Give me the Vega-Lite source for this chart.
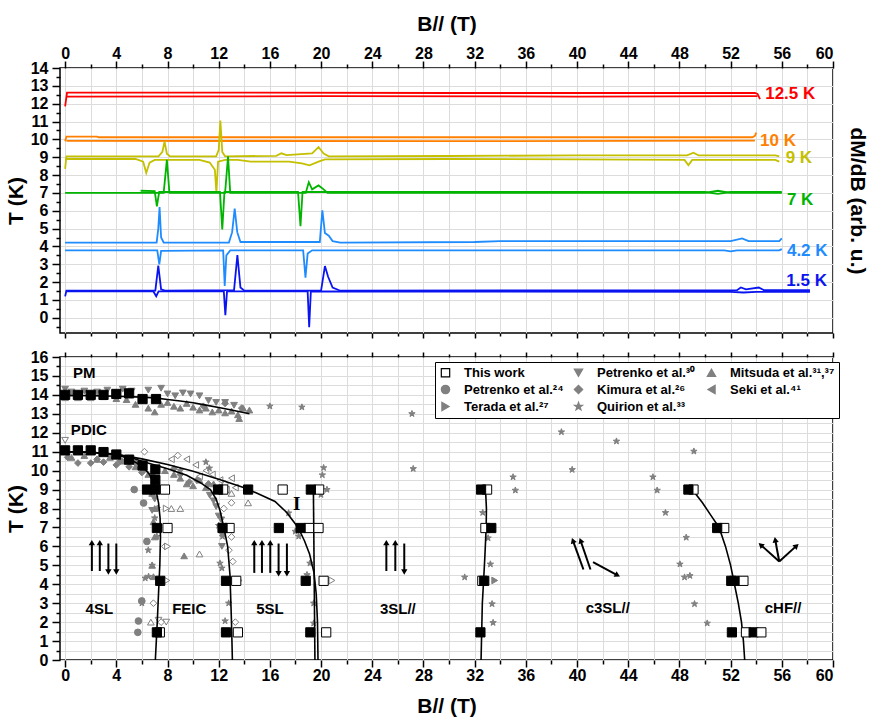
{
 "$schema": "https://vega.github.io/schema/vega-lite/v6.json",
 "background": "white",
 "padding": {"left": 4, "top": 12, "right": 2, "bottom": 2},
 "spacing": 8,
 "config": {
  "font": "Liberation Sans",
  "view": {"stroke": "black", "strokeWidth": 1.5},
  "axis": {"labelFont": "Liberation Sans", "labelFontSize": 16, "labelFontWeight": "bold", "labelColor": "black", "titleFont": "Liberation Sans", "titleFontSize": 21, "titleFontWeight": "bold", "titleColor": "black", "tickColor": "black", "tickWidth": 1.5, "domain": false, "gridColor": "#dcdcdc", "gridWidth": 1, "labelOverlap": false}
 },
 "resolve": {"legend": {"shape": "independent", "color": "independent", "fill": "independent", "stroke": "independent"}},
 "datasets": {
  "sources": [
   {"c": "tw", "name": "This work"},
   {"c": "p30", "name": "Petrenko et al.³⁰"},
   {"c": "m", "name": "Mitsuda et al.³¹,³⁷"},
   {"c": "p24", "name": "Petrenko et al.²⁴"},
   {"c": "k", "name": "Kimura et al.²⁶"},
   {"c": "s", "name": "Seki et al.⁴¹"},
   {"c": "t", "name": "Terada et al.²⁷"},
   {"c": "q", "name": "Quirion et al.³³"}
  ],
  "curves": [
   {"t":"12.5 K","s":"u","B":0,"v":11.85},{"t":"12.5 K","s":"u","B":0.15,"v":12.62},{"t":"12.5 K","s":"u","B":10,"v":12.62},{"t":"12.5 K","s":"u","B":30,"v":12.6},{"t":"12.5 K","s":"u","B":53.9,"v":12.6},{"t":"12.5 K","s":"u","B":54.1,"v":12.55},{"t":"12.5 K","s":"u","B":54.3,"v":12.25},
   {"t":"12.5 K","s":"d","B":0.15,"v":12.4},{"t":"12.5 K","s":"d","B":20,"v":12.42},{"t":"12.5 K","s":"d","B":40,"v":12.4},{"t":"12.5 K","s":"d","B":54.1,"v":12.42},
   {"t":"10 K","s":"u","B":0,"v":9.9},{"t":"10 K","s":"u","B":0.1,"v":10.15},{"t":"10 K","s":"u","B":2.5,"v":10.15},{"t":"10 K","s":"u","B":2.6,"v":10.12},{"t":"10 K","s":"u","B":30,"v":10.12},{"t":"10 K","s":"u","B":53.7,"v":10.12},{"t":"10 K","s":"u","B":53.9,"v":10.2},{"t":"10 K","s":"u","B":54.0,"v":10.38},
   {"t":"10 K","s":"d","B":0.1,"v":9.92},{"t":"10 K","s":"d","B":30,"v":9.9},{"t":"10 K","s":"d","B":53.9,"v":9.93},
   {"t":"9 K","s":"u","B":0,"v":8.35},{"t":"9 K","s":"u","B":0.1,"v":9.05},{"t":"9 K","s":"u","B":7.3,"v":9.05},{"t":"9 K","s":"u","B":7.6,"v":9.3},{"t":"9 K","s":"u","B":7.77,"v":9.88},{"t":"9 K","s":"u","B":7.95,"v":9.2},{"t":"9 K","s":"u","B":8.2,"v":9.05},{"t":"9 K","s":"u","B":11.8,"v":9.05},{"t":"9 K","s":"u","B":12.0,"v":9.4},{"t":"9 K","s":"u","B":12.13,"v":11.05},{"t":"9 K","s":"u","B":12.28,"v":9.3},{"t":"9 K","s":"u","B":12.5,"v":9.05},{"t":"9 K","s":"u","B":16.5,"v":9.08},{"t":"9 K","s":"u","B":16.9,"v":9.22},{"t":"9 K","s":"u","B":17.3,"v":9.12},{"t":"9 K","s":"u","B":19.3,"v":9.22},{"t":"9 K","s":"u","B":19.8,"v":9.57},{"t":"9 K","s":"u","B":20.2,"v":9.2},{"t":"9 K","s":"u","B":20.6,"v":9.05},{"t":"9 K","s":"u","B":30,"v":9.07},{"t":"9 K","s":"u","B":40,"v":9.1},{"t":"9 K","s":"u","B":48.6,"v":9.1},{"t":"9 K","s":"u","B":49.1,"v":9.25},{"t":"9 K","s":"u","B":49.5,"v":9.1},{"t":"9 K","s":"u","B":55.5,"v":9.1},{"t":"9 K","s":"u","B":55.8,"v":9.05},
   {"t":"9 K","s":"d","B":0,"v":8.9},{"t":"9 K","s":"d","B":5.5,"v":8.9},{"t":"9 K","s":"d","B":6.1,"v":8.75},{"t":"9 K","s":"d","B":6.34,"v":8.12},{"t":"9 K","s":"d","B":6.6,"v":8.7},{"t":"9 K","s":"d","B":7,"v":8.85},{"t":"9 K","s":"d","B":10.5,"v":8.85},{"t":"9 K","s":"d","B":11.3,"v":8.7},{"t":"9 K","s":"d","B":11.7,"v":8.3},{"t":"9 K","s":"d","B":11.82,"v":7.0},{"t":"9 K","s":"d","B":11.95,"v":8.75},{"t":"9 K","s":"d","B":12.5,"v":8.85},{"t":"9 K","s":"d","B":13.5,"v":8.85},{"t":"9 K","s":"d","B":14.5,"v":8.75},{"t":"9 K","s":"d","B":17.5,"v":8.75},{"t":"9 K","s":"d","B":18.5,"v":8.65},{"t":"9 K","s":"d","B":19.1,"v":8.55},{"t":"9 K","s":"d","B":19.8,"v":8.75},{"t":"9 K","s":"d","B":20.3,"v":8.88},{"t":"9 K","s":"d","B":30,"v":8.9},{"t":"9 K","s":"d","B":40,"v":8.88},{"t":"9 K","s":"d","B":48.4,"v":8.85},{"t":"9 K","s":"d","B":48.7,"v":8.55},{"t":"9 K","s":"d","B":49.0,"v":8.85},{"t":"9 K","s":"d","B":55.5,"v":8.85},{"t":"9 K","s":"d","B":55.8,"v":8.75},
   {"t":"7 K","s":"u","B":0,"v":7.0},{"t":"7 K","s":"u","B":7.7,"v":7.0},{"t":"7 K","s":"u","B":7.95,"v":8.85},{"t":"7 K","s":"u","B":8.15,"v":7.0},{"t":"7 K","s":"u","B":12.5,"v":7.0},{"t":"7 K","s":"u","B":12.73,"v":9.05},{"t":"7 K","s":"u","B":12.9,"v":7.0},{"t":"7 K","s":"u","B":18.8,"v":7.0},{"t":"7 K","s":"u","B":19.04,"v":7.6},{"t":"7 K","s":"u","B":19.3,"v":7.2},{"t":"7 K","s":"u","B":19.8,"v":7.42},{"t":"7 K","s":"u","B":20.2,"v":7.2},{"t":"7 K","s":"u","B":20.5,"v":7.0},{"t":"7 K","s":"u","B":50,"v":7.0},{"t":"7 K","s":"u","B":51,"v":7.12},{"t":"7 K","s":"u","B":52,"v":7.0},{"t":"7 K","s":"u","B":56,"v":7.0},
   {"t":"7 K","s":"d","B":5.9,"v":7.12},{"t":"7 K","s":"d","B":7.0,"v":7.1},{"t":"7 K","s":"d","B":7.17,"v":6.25},{"t":"7 K","s":"d","B":7.35,"v":7.05},{"t":"7 K","s":"d","B":12.1,"v":7.05},{"t":"7 K","s":"d","B":12.28,"v":4.95},{"t":"7 K","s":"d","B":12.45,"v":7.05},{"t":"7 K","s":"d","B":18.2,"v":7.05},{"t":"7 K","s":"d","B":18.39,"v":5.13},{"t":"7 K","s":"d","B":18.55,"v":7.05},{"t":"7 K","s":"d","B":50,"v":7.05},{"t":"7 K","s":"d","B":51,"v":6.95},{"t":"7 K","s":"d","B":52,"v":7.05},{"t":"7 K","s":"d","B":56,"v":7.05},
   {"t":"4.2 K","s":"u","B":0,"v":4.22},{"t":"4.2 K","s":"u","B":7.15,"v":4.22},{"t":"4.2 K","s":"u","B":7.28,"v":5.0},{"t":"4.2 K","s":"u","B":7.38,"v":6.21},{"t":"4.2 K","s":"u","B":7.5,"v":4.5},{"t":"4.2 K","s":"u","B":7.7,"v":4.22},{"t":"4.2 K","s":"u","B":12.8,"v":4.22},{"t":"4.2 K","s":"u","B":13.05,"v":4.8},{"t":"4.2 K","s":"u","B":13.25,"v":6.12},{"t":"4.2 K","s":"u","B":13.45,"v":4.8},{"t":"4.2 K","s":"u","B":13.7,"v":4.25},{"t":"4.2 K","s":"u","B":19.9,"v":4.25},{"t":"4.2 K","s":"u","B":20.1,"v":6.03},{"t":"4.2 K","s":"u","B":20.3,"v":4.75},{"t":"4.2 K","s":"u","B":20.6,"v":4.6},{"t":"4.2 K","s":"u","B":20.9,"v":4.3},{"t":"4.2 K","s":"u","B":21.5,"v":4.22},{"t":"4.2 K","s":"u","B":32,"v":4.25},{"t":"4.2 K","s":"u","B":34,"v":4.3},{"t":"4.2 K","s":"u","B":52,"v":4.3},{"t":"4.2 K","s":"u","B":52.9,"v":4.45},{"t":"4.2 K","s":"u","B":53.4,"v":4.3},{"t":"4.2 K","s":"u","B":55.8,"v":4.3},{"t":"4.2 K","s":"u","B":56,"v":4.45},
   {"t":"4.2 K","s":"d","B":0,"v":3.78},{"t":"4.2 K","s":"d","B":7.2,"v":3.78},{"t":"4.2 K","s":"d","B":7.36,"v":3.0},{"t":"4.2 K","s":"d","B":7.5,"v":3.75},{"t":"4.2 K","s":"d","B":12.35,"v":3.78},{"t":"4.2 K","s":"d","B":12.47,"v":1.78},{"t":"4.2 K","s":"d","B":12.6,"v":3.5},{"t":"4.2 K","s":"d","B":12.9,"v":3.78},{"t":"4.2 K","s":"d","B":18.6,"v":3.78},{"t":"4.2 K","s":"d","B":18.78,"v":2.25},{"t":"4.2 K","s":"d","B":18.95,"v":3.6},{"t":"4.2 K","s":"d","B":19.3,"v":3.78},{"t":"4.2 K","s":"d","B":51.5,"v":3.78},{"t":"4.2 K","s":"d","B":52,"v":3.72},{"t":"4.2 K","s":"d","B":52.5,"v":3.78},{"t":"4.2 K","s":"d","B":55.8,"v":3.78},{"t":"4.2 K","s":"d","B":56,"v":3.85},
   {"t":"1.5 K","s":"u","B":0,"v":1.2},{"t":"1.5 K","s":"u","B":0.1,"v":1.52},{"t":"1.5 K","s":"u","B":7.05,"v":1.52},{"t":"1.5 K","s":"u","B":7.28,"v":2.93},{"t":"1.5 K","s":"u","B":7.5,"v":1.6},{"t":"1.5 K","s":"u","B":7.8,"v":1.52},{"t":"1.5 K","s":"u","B":13.2,"v":1.55},{"t":"1.5 K","s":"u","B":13.46,"v":3.51},{"t":"1.5 K","s":"u","B":13.7,"v":1.7},{"t":"1.5 K","s":"u","B":14,"v":1.52},{"t":"1.5 K","s":"u","B":20.0,"v":1.52},{"t":"1.5 K","s":"u","B":20.3,"v":2.9},{"t":"1.5 K","s":"u","B":20.55,"v":2.3},{"t":"1.5 K","s":"u","B":20.9,"v":1.7},{"t":"1.5 K","s":"u","B":21.5,"v":1.52},{"t":"1.5 K","s":"u","B":52.5,"v":1.55},{"t":"1.5 K","s":"u","B":52.8,"v":1.7},{"t":"1.5 K","s":"u","B":53.2,"v":1.6},{"t":"1.5 K","s":"u","B":54.2,"v":1.7},{"t":"1.5 K","s":"u","B":54.6,"v":1.55},{"t":"1.5 K","s":"u","B":58.2,"v":1.55},
   {"t":"1.5 K","s":"d","B":0.1,"v":1.48},{"t":"1.5 K","s":"d","B":6.9,"v":1.48},{"t":"1.5 K","s":"d","B":7.12,"v":1.21},{"t":"1.5 K","s":"d","B":7.3,"v":1.48},{"t":"1.5 K","s":"d","B":12.4,"v":1.48},{"t":"1.5 K","s":"d","B":12.52,"v":0.15},{"t":"1.5 K","s":"d","B":12.65,"v":1.48},{"t":"1.5 K","s":"d","B":18.95,"v":1.48},{"t":"1.5 K","s":"d","B":19.07,"v":-0.52},{"t":"1.5 K","s":"d","B":19.2,"v":1.48},{"t":"1.5 K","s":"d","B":52,"v":1.45},{"t":"1.5 K","s":"d","B":53,"v":1.42},{"t":"1.5 K","s":"d","B":54,"v":1.45},{"t":"1.5 K","s":"d","B":58.2,"v":1.45}
  ],
  "tlabels": [
   {"t":"12.5 K","B":54.7,"v":12.54},{"t":"10 K","B":54.3,"v":9.93},{"t":"9 K","B":56.3,"v":8.96},{"t":"7 K","B":56.4,"v":6.59},{"t":"4.2 K","B":56.4,"v":3.77},{"t":"1.5 K","B":56.35,"v":2.09}
  ],
  "plines": [
   {"id":"pm","B":0,"T":13.97},{"id":"pm","B":2,"T":13.96},{"id":"pm","B":4,"T":13.93},{"id":"pm","B":6,"T":13.88},{"id":"pm","B":7,"T":13.84},{"id":"pm","B":8,"T":13.76},{"id":"pm","B":9,"T":13.68},{"id":"pm","B":10,"T":13.58},{"id":"pm","B":11,"T":13.46},{"id":"pm","B":12,"T":13.33},{"id":"pm","B":13,"T":13.2},{"id":"pm","B":14.4,"T":13.0},
   {"id":"outer","B":0,"T":11.0},{"id":"outer","B":2,"T":10.97},{"id":"outer","B":4,"T":10.86},{"id":"outer","B":6,"T":10.62},{"id":"outer","B":8,"T":10.32},{"id":"outer","B":10,"T":9.97},{"id":"outer","B":12,"T":9.55},{"id":"outer","B":14,"T":9.1},{"id":"outer","B":15,"T":8.8},{"id":"outer","B":16.4,"T":8.37},{"id":"outer","B":17.3,"T":7.8},{"id":"outer","B":18.2,"T":7.0},{"id":"outer","B":18.7,"T":6.3},{"id":"outer","B":19.1,"T":5.6},{"id":"outer","B":19.45,"T":4.6},{"id":"outer","B":19.62,"T":3.5},{"id":"outer","B":19.72,"T":2.0},{"id":"outer","B":19.76,"T":0},
   {"id":"middle","B":0,"T":11.0},{"id":"middle","B":2,"T":10.97},{"id":"middle","B":4,"T":10.86},{"id":"middle","B":5,"T":10.72},{"id":"middle","B":6,"T":10.5},{"id":"middle","B":8,"T":10.1},{"id":"middle","B":9.5,"T":9.75},{"id":"middle","B":10.6,"T":9.35},{"id":"middle","B":11.35,"T":9.0},{"id":"middle","B":11.8,"T":8.5},{"id":"middle","B":12.1,"T":7.9},{"id":"middle","B":12.4,"T":7.0},{"id":"middle","B":12.7,"T":6.0},{"id":"middle","B":12.88,"T":4.5},{"id":"middle","B":13.0,"T":2.0},{"id":"middle","B":13.07,"T":0},
   {"id":"inner","B":0,"T":11.0},{"id":"inner","B":2,"T":10.97},{"id":"inner","B":4,"T":10.86},{"id":"inner","B":5,"T":10.62},{"id":"inner","B":6,"T":10.25},{"id":"inner","B":6.6,"T":9.8},{"id":"inner","B":7.05,"T":9.1},{"id":"inner","B":7.3,"T":8.3},{"id":"inner","B":7.42,"T":7.5},{"id":"inner","B":7.45,"T":6.5},{"id":"inner","B":7.4,"T":5.0},{"id":"inner","B":7.33,"T":4.0},{"id":"inner","B":7.2,"T":2.0},{"id":"inner","B":7.05,"T":0},
   {"id":"v19","B":19.4,"T":9.0},{"id":"v19","B":19.52,"T":0},
   {"id":"v33","B":32.85,"T":9.0},{"id":"v33","B":32.92,"T":8.0},{"id":"v33","B":32.9,"T":7.0},{"id":"v33","B":32.8,"T":5.5},{"id":"v33","B":32.7,"T":4.2},{"id":"v33","B":32.6,"T":3.0},{"id":"v33","B":32.55,"T":1.5},{"id":"v33","B":32.5,"T":0},
   {"id":"chf","B":49.0,"T":9.0},{"id":"chf","B":49.8,"T":8.3},{"id":"chf","B":50.5,"T":7.6},{"id":"chf","B":51.1,"T":7.0},{"id":"chf","B":51.6,"T":6.0},{"id":"chf","B":52.0,"T":5.0},{"id":"chf","B":52.3,"T":4.0},{"id":"chf","B":52.6,"T":3.0},{"id":"chf","B":52.85,"T":2.0},{"id":"chf","B":53.0,"T":1.0},{"id":"chf","B":53.1,"T":0}
  ],
  "thiswork": [
   {"B":7.8,"T":9.0,"o":1},{"B":12.35,"T":9.0,"o":1},{"B":17.0,"T":9.0,"o":1},{"B":19.85,"T":9.0,"o":1},{"B":32.97,"T":9.0,"o":1},{"B":49.1,"T":9.0,"o":1},
   {"B":8.0,"T":6.97,"o":1},{"B":12.85,"T":6.97,"o":1},{"B":19.05,"T":6.97,"o":1},{"B":19.8,"T":6.97,"o":1},{"B":32.84,"T":6.97,"o":1},{"B":51.5,"T":6.97,"o":1},
   {"B":13.37,"T":4.18,"o":1},{"B":20.2,"T":4.18,"o":1},{"B":32.6,"T":4.18,"o":1},{"B":53.0,"T":4.18,"o":1},
   {"B":7.4,"T":1.46,"o":1},{"B":13.5,"T":1.46,"o":1},{"B":20.4,"T":1.46,"o":1},{"B":53.2,"T":1.46,"o":1},
   {"B":0,"T":14.0,"o":0},{"B":1,"T":14.0,"o":0},{"B":2,"T":14.0,"o":0},{"B":3,"T":14.0,"o":0},{"B":4,"T":14.05,"o":0},{"B":5,"T":14.08,"o":0},{"B":6.05,"T":13.78,"o":0},{"B":7.1,"T":13.78,"o":0},
   {"B":0,"T":11.07,"o":0},{"B":1,"T":11.07,"o":0},{"B":2,"T":11.07,"o":0},{"B":3,"T":10.98,"o":0},{"B":4,"T":10.85,"o":0},{"B":5,"T":10.58,"o":0},{"B":6.05,"T":10.27,"o":0},{"B":7.05,"T":10.06,"o":0},{"B":7.05,"T":9.5,"o":0},
   {"B":6.4,"T":9.0,"o":0},{"B":7.05,"T":9.0,"o":0},{"B":11.95,"T":9.0,"o":0},{"B":14.3,"T":9.0,"o":0},{"B":19.2,"T":9.0,"o":0},{"B":32.5,"T":9.0,"o":0},{"B":48.7,"T":9.0,"o":0},
   {"B":7.17,"T":6.97,"o":0},{"B":12.3,"T":6.97,"o":0},{"B":16.7,"T":6.97,"o":0},{"B":18.4,"T":6.97,"o":0},{"B":33.3,"T":6.97,"o":0},{"B":50.95,"T":6.97,"o":0},
   {"B":7.43,"T":4.18,"o":0},{"B":12.57,"T":4.18,"o":0},{"B":18.8,"T":4.18,"o":0},{"B":32.75,"T":4.18,"o":0},{"B":52.05,"T":4.18,"o":0},{"B":52.3,"T":4.18,"o":0},
   {"B":7.17,"T":1.46,"o":0},{"B":12.57,"T":1.46,"o":0},{"B":19.16,"T":1.46,"o":0},{"B":32.45,"T":1.46,"o":0},{"B":52.1,"T":1.46,"o":0},{"B":53.8,"T":1.46,"o":0},
   {"B":54.4,"T":1.46,"o":1}
  ],
  "lit": [
   {"c":"p30","B":0,"T":14.3},{"c":"p30","B":0.5,"T":14.15},{"c":"p30","B":1.5,"T":14.2},{"c":"p30","B":2.5,"T":14.15},{"c":"p30","B":3.3,"T":14.25},{"c":"p30","B":4.5,"T":14.3},{"c":"p30","B":5.2,"T":14.2},{"c":"p30","B":6.5,"T":14.25},{"c":"p30","B":7.5,"T":14.35},{"c":"p30","B":8.0,"T":14.05},{"c":"p30","B":8.6,"T":13.95},{"c":"p30","B":9.2,"T":14.1},{"c":"p30","B":9.8,"T":14.05},{"c":"p30","B":10.5,"T":13.95},{"c":"p30","B":11.2,"T":13.7},{"c":"p30","B":11.8,"T":13.6},{"c":"p30","B":12.5,"T":13.6},{"c":"p30","B":13.2,"T":13.45},
   {"c":"p30","B":11.3,"T":8.7},{"c":"p30","B":11.6,"T":8.4},{"c":"p30","B":11.8,"T":8.1},{"c":"p30","B":12.0,"T":7.6},{"c":"p30","B":12.2,"T":7.4},{"c":"p30","B":12.3,"T":6.6},{"c":"p30","B":12.25,"T":6.0},{"c":"p30","B":6.8,"T":9.7},{"c":"p30","B":7.0,"T":8.5},{"c":"p30","B":6.8,"T":7.9},{"c":"p30","B":0,"T":11.6,"o":1},{"c":"p30","B":7.9,"T":2.0,"o":1},{"c":"p30","B":7.3,"T":2.1,"o":1},
   {"c":"m","B":0,"T":13.85},{"c":"m","B":0.5,"T":14.1},{"c":"m","B":1,"T":13.85},{"c":"m","B":2,"T":13.85},{"c":"m","B":3,"T":13.9},{"c":"m","B":4,"T":13.8},{"c":"m","B":4.8,"T":13.75},{"c":"m","B":5.5,"T":13.5},{"c":"m","B":6.5,"T":13.3},{"c":"m","B":7.0,"T":13.1},{"c":"m","B":7.5,"T":13.5},{"c":"m","B":8.0,"T":13.6},{"c":"m","B":8.5,"T":13.4},{"c":"m","B":9.0,"T":13.3},{"c":"m","B":9.5,"T":13.55},{"c":"m","B":10.0,"T":13.35},{"c":"m","B":10.5,"T":13.2},{"c":"m","B":11.0,"T":13.3},{"c":"m","B":11.5,"T":13.1},{"c":"m","B":12.0,"T":13.2},{"c":"m","B":12.5,"T":13.05},{"c":"m","B":13.0,"T":13.15},{"c":"m","B":13.5,"T":12.95},{"c":"m","B":13.9,"T":13.3},{"c":"m","B":14.4,"T":13.2},{"c":"m","B":13.6,"T":12.75},
   {"c":"m","B":0.5,"T":10.7},{"c":"m","B":1.5,"T":10.8},{"c":"m","B":2.5,"T":10.6},{"c":"m","B":3.5,"T":10.7},{"c":"m","B":4.5,"T":10.5},{"c":"m","B":5.5,"T":10.2},{"c":"m","B":6.2,"T":10.1},{"c":"m","B":6.5,"T":9.8},{"c":"m","B":7.8,"T":10.0},{"c":"m","B":8.5,"T":9.8},{"c":"m","B":9.0,"T":9.6},{"c":"m","B":9.5,"T":9.3},{"c":"m","B":10.0,"T":9.2},{"c":"m","B":10.5,"T":9.5},{"c":"m","B":11.0,"T":9.1},{"c":"m","B":11.6,"T":9.3},
   {"c":"m","B":6.8,"T":8.8},{"c":"m","B":7.0,"T":8.0},{"c":"m","B":6.9,"T":7.3},{"c":"m","B":7.0,"T":6.5},{"c":"m","B":6.8,"T":5.0},{"c":"m","B":6.9,"T":4.4},{"c":"m","B":9.3,"T":5.5},
   {"c":"m","B":8.3,"T":8.0,"o":1},{"c":"m","B":9.0,"T":8.0,"o":1},{"c":"m","B":10.5,"T":5.6,"o":1},{"c":"m","B":13.0,"T":8.8,"o":1},{"c":"m","B":14.3,"T":8.3,"o":1},{"c":"m","B":6.7,"T":2.0,"o":1},{"c":"m","B":8.0,"T":7.0,"o":1},
   {"c":"p24","B":5.4,"T":9.0},{"c":"p24","B":6.13,"T":8.29},{"c":"p24","B":6.39,"T":6.26},{"c":"p24","B":5.99,"T":3.12},{"c":"p24","B":5.73,"T":2.06},{"c":"p24","B":5.68,"T":1.46},
   {"c":"k","B":0.2,"T":10.7},{"c":"k","B":1.0,"T":10.4},{"c":"k","B":2.0,"T":10.4},{"c":"k","B":2.5,"T":10.6},{"c":"k","B":3.0,"T":10.45},{"c":"k","B":4.0,"T":10.3},{"c":"k","B":4.3,"T":10.5},{"c":"k","B":5.0,"T":10.2},{"c":"k","B":5.5,"T":10.4},{"c":"k","B":6.0,"T":9.9},{"c":"k","B":8.5,"T":10.1},{"c":"k","B":9.0,"T":9.8},{"c":"k","B":9.7,"T":9.4},{"c":"k","B":10.3,"T":9.5},{"c":"k","B":11.2,"T":9.3},{"c":"k","B":12.5,"T":13.55},{"c":"k","B":13.8,"T":13.3},{"c":"k","B":10.8,"T":13.4},
   {"c":"k","B":6.2,"T":11.0,"o":1},{"c":"k","B":8.8,"T":10.8,"o":1},{"c":"k","B":7.5,"T":9.0,"o":1},{"c":"k","B":12.5,"T":9.3,"o":1},{"c":"k","B":12.4,"T":8.0,"o":1},{"c":"k","B":13.0,"T":8.3,"o":1},{"c":"k","B":13.0,"T":6.5,"o":1},{"c":"k","B":12.8,"T":5.8,"o":1},{"c":"k","B":13.1,"T":5.2,"o":1},{"c":"k","B":13.3,"T":2.0,"o":1},{"c":"k","B":7.8,"T":6.0,"o":1},{"c":"k","B":7.5,"T":2.0,"o":1},{"c":"k","B":6.9,"T":3.0,"o":1},
   {"c":"s","B":1.0,"T":11.1,"o":1},{"c":"s","B":8.3,"T":10.6,"o":1},{"c":"s","B":9.5,"T":10.6,"o":1},{"c":"s","B":10.2,"T":10.3,"o":1},{"c":"s","B":11.0,"T":10.0,"o":1},{"c":"s","B":11.5,"T":9.8,"o":1},{"c":"s","B":12.1,"T":9.5,"o":1},{"c":"s","B":12.6,"T":9.0,"o":1},{"c":"s","B":13.3,"T":9.1,"o":1},{"c":"s","B":13.0,"T":9.6,"o":1},{"c":"s","B":10.5,"T":9.7,"o":1},
   {"c":"t","B":7.95,"T":4.2,"o":1},{"c":"t","B":13.6,"T":4.2,"o":1},{"c":"t","B":20.85,"T":4.2,"o":1},{"c":"t","B":33.57,"T":4.2},{"c":"t","B":8.0,"T":6.0,"o":1},{"c":"t","B":7.9,"T":8.0,"o":1},
   {"c":"q","B":16.0,"T":13.4},{"c":"q","B":18.5,"T":13.35},{"c":"q","B":27.1,"T":13.0},{"c":"q","B":27.2,"T":10.1},{"c":"q","B":38.78,"T":12.04},{"c":"q","B":43.08,"T":11.55},{"c":"q","B":49.13,"T":11.02},{"c":"q","B":39.62,"T":10.05},{"c":"q","B":35.0,"T":9.66},{"c":"q","B":35.18,"T":8.96},{"c":"q","B":45.93,"T":9.66},{"c":"q","B":46.26,"T":8.96},{"c":"q","B":46.91,"T":7.78},{"c":"q","B":32.63,"T":7.78},{"c":"q","B":33.05,"T":6.44},{"c":"q","B":33.23,"T":5.06},{"c":"q","B":31.22,"T":4.37},{"c":"q","B":33.36,"T":2.96},{"c":"q","B":33.44,"T":1.97},{"c":"q","B":48.53,"T":6.47},{"c":"q","B":48.04,"T":5.06},{"c":"q","B":48.4,"T":4.37},{"c":"q","B":48.82,"T":4.45},{"c":"q","B":49.18,"T":2.96},{"c":"q","B":50.17,"T":1.94},
   {"c":"q","B":11.0,"T":10.45},{"c":"q","B":11.27,"T":10.13},{"c":"q","B":9.0,"T":10.0},{"c":"q","B":17.46,"T":7.76},{"c":"q","B":17.98,"T":6.79},{"c":"q","B":18.25,"T":6.53},{"c":"q","B":19.13,"T":5.11},{"c":"q","B":18.9,"T":4.5},{"c":"q","B":19.42,"T":3.0},{"c":"q","B":19.42,"T":1.94},{"c":"q","B":20.2,"T":10.15},{"c":"q","B":20.1,"T":9.77},{"c":"q","B":19.99,"T":8.73},{"c":"q","B":20.46,"T":9.0},
   {"c":"q","B":7.17,"T":6.52},{"c":"q","B":6.26,"T":4.32},{"c":"q","B":6.52,"T":4.41},{"c":"q","B":6.8,"T":5.0},{"c":"q","B":6.5,"T":5.8},{"c":"q","B":6.0,"T":3.0},{"c":"q","B":7.0,"T":7.5},{"c":"q","B":7.2,"T":8.0},{"c":"q","B":12.25,"T":4.85},{"c":"q","B":12.1,"T":5.11},{"c":"q","B":12.78,"T":3.0},{"c":"q","B":12.5,"T":2.06},{"c":"q","B":12.3,"T":6.52},{"c":"q","B":12.0,"T":7.1}
  ],
  "phases": [
   {"lab":"PM","B":1.5,"T":15.13},{"lab":"PDIC","B":1.85,"T":12.17},{"lab":"4SL","B":2.67,"T":2.68},{"lab":"FEIC","B":9.7,"T":2.68},{"lab":"5SL","B":16.0,"T":2.68},{"lab":"3SL//","B":26.0,"T":2.68},{"lab":"c3SL//","B":42.4,"T":2.73},{"lab":"cHF//","B":56.1,"T":2.73}
  ],
  "spins": [
   {"B":2.09,"T":4.7,"B2":2.09,"T2":6.15,"ang":0},{"B":2.71,"T":4.7,"B2":2.71,"T2":6.15,"ang":0},{"B":3.38,"T":6.15,"B2":3.38,"T2":4.7,"ang":180},{"B":4.0,"T":6.15,"B2":4.0,"T2":4.7,"ang":180},
   {"B":14.78,"T":4.6,"B2":14.78,"T2":6.15,"ang":0},{"B":15.38,"T":4.6,"B2":15.38,"T2":6.15,"ang":0},{"B":16.03,"T":4.6,"B2":16.03,"T2":6.15,"ang":0},{"B":16.68,"T":6.15,"B2":16.68,"T2":4.6,"ang":180},{"B":17.33,"T":6.15,"B2":17.33,"T2":4.6,"ang":180},
   {"B":25.1,"T":4.7,"B2":25.1,"T2":6.15,"ang":0},{"B":25.8,"T":4.7,"B2":25.8,"T2":6.15,"ang":0},{"B":26.5,"T":6.15,"B2":26.5,"T2":4.7,"ang":180},
   {"B":40.5,"T":4.78,"B2":39.7,"T2":6.26,"ang":-20},{"B":41.05,"T":4.78,"B2":40.3,"T2":6.26,"ang":-20},{"B":41.25,"T":5.17,"B2":43.1,"T2":4.5,"ang":118},
   {"B":55.8,"T":5.2,"B2":54.4,"T2":6.05,"ang":-48},{"B":55.8,"T":5.2,"B2":55.5,"T2":6.3,"ang":-10},{"B":55.8,"T":5.2,"B2":57.1,"T2":6.0,"ang":48}
  ]
 },
 "vconcat": [
  {
   "width": 773,
   "height": 265,
   "resolve": {"axis": {"x": "independent", "y": "independent"}},
   "layer": [
    {
     "data": {"name": "curves"},
     "mark": {"type": "line", "strokeWidth": 1.8},
     "encoding": {
      "x": {"field": "B", "type": "quantitative", "scale": {"domain": [-0.4, 60], "nice": false, "zero": false},
            "axis": {"orient": "bottom", "values": [0,2,4,6,8,10,12,14,16,18,20,22,24,26,28,30,32,34,36,38,40,42,44,46,48,50,52,54,56,58,60], "grid": true, "labels": false,
                     "tickSize": {"condition": {"test": "datum.value % 4 === 0", "value": 5}, "value": 3}, "title": null}},
      "y": {"field": "v", "type": "quantitative", "scale": {"domain": [-0.85, 14], "nice": false, "zero": false},
            "axis": {"orient": "right", "values": [0,1,2,3,4,5,6,7,8,9,10,11,12,13,14], "grid": true, "labels": false, "ticks": false, "title": "dM/dB (arb. u.)", "titlePadding": 13}},
      "color": {"field": "t", "type": "nominal", "scale": {"domain": ["12.5 K","10 K","9 K","7 K","4.2 K","1.5 K"], "range": ["#ff0000","#ff8000","#c4c000","#00b400","#1e8cff","#0a14f0"]}, "legend": null},
      "detail": {"field": "s"}
     }
    },
    {
     "data": {"name": "tlabels"},
     "mark": {"type": "text", "align": "left", "baseline": "middle", "fontSize": 17, "fontWeight": "bold", "font": "Liberation Sans"},
     "encoding": {
      "x": {"field": "B", "type": "quantitative", "scale": {"domain": [-0.4, 60], "nice": false, "zero": false},
            "axis": {"orient": "top", "values": [0,2,4,6,8,10,12,14,16,18,20,22,24,26,28,30,32,34,36,38,40,42,44,46,48,50,52,54,56,58,60],
                     "labelExpr": "datum.value % 4 === 0 ? format(datum.value, 'd') : ''",
                     "tickSize": {"condition": {"test": "datum.value % 4 === 0", "value": 7}, "value": 4}, "labelPadding": 0, "title": "B// (T)", "titlePadding": 11}},
      "y": {"field": "v", "type": "quantitative", "scale": {"domain": [-0.85, 14], "nice": false, "zero": false},
            "axis": {"orient": "left", "values": [-0.5,0,0.5,1,1.5,2,2.5,3,3.5,4,4.5,5,5.5,6,6.5,7,7.5,8,8.5,9,9.5,10,10.5,11,11.5,12,12.5,13,13.5,14],
                     "labelExpr": "datum.value % 1 === 0 ? format(datum.value, 'd') : ''",
                     "tickSize": {"condition": {"test": "datum.value % 1 === 0", "value": 8}, "value": 4}, "labelPadding": 4, "title": "T (K)", "titlePadding": 4}},
      "color": {"field": "t", "type": "nominal", "scale": {"domain": ["12.5 K","10 K","9 K","7 K","4.2 K","1.5 K"], "range": ["#ff0000","#ff8000","#c4c000","#00b400","#1e8cff","#0a14f0"]}, "legend": null},
      "text": {"field": "t"}
     }
    }
   ]
  },
  {
   "width": 773,
   "height": 303,
   "resolve": {"axis": {"x": "independent", "y": "independent"}},
   "layer": [
    {
     "data": {"name": "lit"},
     "transform": [{"lookup": "c", "from": {"data": {"name": "sources"}, "key": "c", "fields": ["name"]}}],
     "mark": {"type": "point", "size": 45, "strokeWidth": 1, "opacity": 1},
     "encoding": {
      "x": {"field": "B", "type": "quantitative", "scale": {"domain": [-0.4, 60], "nice": false, "zero": false},
            "axis": {"orient": "bottom", "values": [0,2,4,6,8,10,12,14,16,18,20,22,24,26,28,30,32,34,36,38,40,42,44,46,48,50,52,54,56,58,60],
                     "labelExpr": "datum.value % 4 === 0 ? format(datum.value, 'd') : ''",
                     "tickSize": {"condition": {"test": "datum.value % 4 === 0", "value": 7}, "value": 4}, "labelPadding": 0, "title": "B// (T)", "titlePadding": 12}},
      "y": {"field": "T", "type": "quantitative", "scale": {"domain": [0, 16], "nice": false, "zero": false},
            "axis": {"orient": "left", "values": [0,0.5,1,1.5,2,2.5,3,3.5,4,4.5,5,5.5,6,6.5,7,7.5,8,8.5,9,9.5,10,10.5,11,11.5,12,12.5,13,13.5,14,14.5,15,15.5,16],
                     "labelExpr": "datum.value % 1 === 0 ? format(datum.value, 'd') : ''",
                     "tickSize": {"condition": {"test": "datum.value % 1 === 0", "value": 8}, "value": 4}, "labelPadding": 4, "title": "T (K)", "titlePadding": 4}},
      "shape": {"field": "name", "type": "nominal",
                "scale": {"domain": ["This work","Petrenko et al.²⁴","Terada et al.²⁷","Petrenko et al.³⁰","Kimura et al.²⁶","Quirion et al.³³","Mitsuda et al.³¹,³⁷","Seki et al.⁴¹"],
                          "range": ["square","circle","triangle-right","triangle-down","diamond","M0,-1L0.235,-0.324L0.951,-0.309L0.38,0.124L0.588,0.809L0,0.4L-0.588,0.809L-0.38,0.124L-0.951,-0.309L-0.235,-0.324Z","triangle-up","triangle-left"]},
                "legend": {"orient": "none", "legendX": 375, "legendY": 5, "title": null, "columns": 3, "gridAlign": "all", "columnPadding": 2, "rowPadding": 2, "padding": 4,
                           "strokeColor": "black", "fillColor": "white", "labelFont": "Liberation Sans", "labelFontSize": 13, "labelFontWeight": "bold", "labelColor": "black", "labelOffset": 12, "symbolSize": 70, "symbolStrokeWidth": 1.2}},
      "fill": {"condition": {"test": "datum.o === 1", "value": "#ffffff"}, "field": "name", "type": "nominal",
               "scale": {"domain": ["This work","Petrenko et al.²⁴","Terada et al.²⁷","Petrenko et al.³⁰","Kimura et al.²⁶","Quirion et al.³³","Mitsuda et al.³¹,³⁷","Seki et al.⁴¹"],
                         "range": ["#ffffff","#808080","#808080","#808080","#808080","#808080","#808080","#808080"]}},
      "stroke": {"field": "name", "type": "nominal",
                 "scale": {"domain": ["This work","Petrenko et al.²⁴","Terada et al.²⁷","Petrenko et al.³⁰","Kimura et al.²⁶","Quirion et al.³³","Mitsuda et al.³¹,³⁷","Seki et al.⁴¹"],
                           "range": ["#000000","#808080","#808080","#808080","#808080","#808080","#808080","#808080"]}}
     }
    },
    {
     "data": {"name": "plines"},
     "mark": {"type": "line", "color": "black", "strokeWidth": 1.6},
     "encoding": {
      "x": {"field": "B", "type": "quantitative", "scale": {"domain": [-0.4, 60], "nice": false, "zero": false},
            "axis": {"orient": "top", "values": [0,2,4,6,8,10,12,14,16,18,20,22,24,26,28,30,32,34,36,38,40,42,44,46,48,50,52,54,56,58,60], "grid": true, "labels": false,
                     "tickSize": {"condition": {"test": "datum.value % 4 === 0", "value": 5}, "value": 3}, "title": null}},
      "y": {"field": "T", "type": "quantitative", "scale": {"domain": [0, 16], "nice": false, "zero": false},
            "axis": {"orient": "right", "values": [0,1,2,3,4,5,6,7,8,9,10,11,12,13,14,15,16], "grid": true, "labels": false, "ticks": false, "title": null}},
      "detail": {"field": "id"},
      "order": {"field": "T", "sort": "descending"}
     }
    },
    {
     "data": {"name": "thiswork"},
     "mark": {"type": "point", "shape": "square", "size": 85, "stroke": "black", "strokeWidth": 1, "opacity": 1},
     "encoding": {
      "x": {"field": "B", "type": "quantitative", "axis": null},
      "y": {"field": "T", "type": "quantitative", "axis": null},
      "fill": {"condition": {"test": "datum.o === 1", "value": "#ffffff"}, "value": "#000000"}
     }
    },
    {
     "data": {"name": "phases"},
     "mark": {"type": "text", "align": "center", "baseline": "middle", "fontSize": 15, "fontWeight": "bold", "font": "Liberation Sans", "color": "black"},
     "encoding": {
      "x": {"field": "B", "type": "quantitative", "axis": null},
      "y": {"field": "T", "type": "quantitative", "axis": null},
      "text": {"field": "lab"}
     }
    },
    {
     "data": {"values": [{"lab": "I", "B": 18.1, "T": 8.25}]},
     "mark": {"type": "text", "align": "center", "baseline": "middle", "fontSize": 19, "fontWeight": "bold", "font": "Liberation Serif", "color": "black"},
     "encoding": {
      "x": {"field": "B", "type": "quantitative", "axis": null},
      "y": {"field": "T", "type": "quantitative", "axis": null},
      "text": {"field": "lab"}
     }
    },
    {
     "data": {"name": "spins"},
     "mark": {"type": "rule", "color": "black", "strokeWidth": 2},
     "encoding": {
      "x": {"field": "B", "type": "quantitative", "axis": null},
      "y": {"field": "T", "type": "quantitative", "axis": null},
      "x2": {"field": "B2"},
      "y2": {"field": "T2"}
     }
    },
    {
     "data": {"name": "spins"},
     "mark": {"type": "point", "shape": "triangle", "size": 40, "filled": true, "color": "black", "opacity": 1},
     "encoding": {
      "x": {"field": "B2", "type": "quantitative", "axis": null},
      "y": {"field": "T2", "type": "quantitative", "axis": null},
      "angle": {"field": "ang", "type": "quantitative", "scale": null}
     }
    }
   ]
  }
 ]
}
